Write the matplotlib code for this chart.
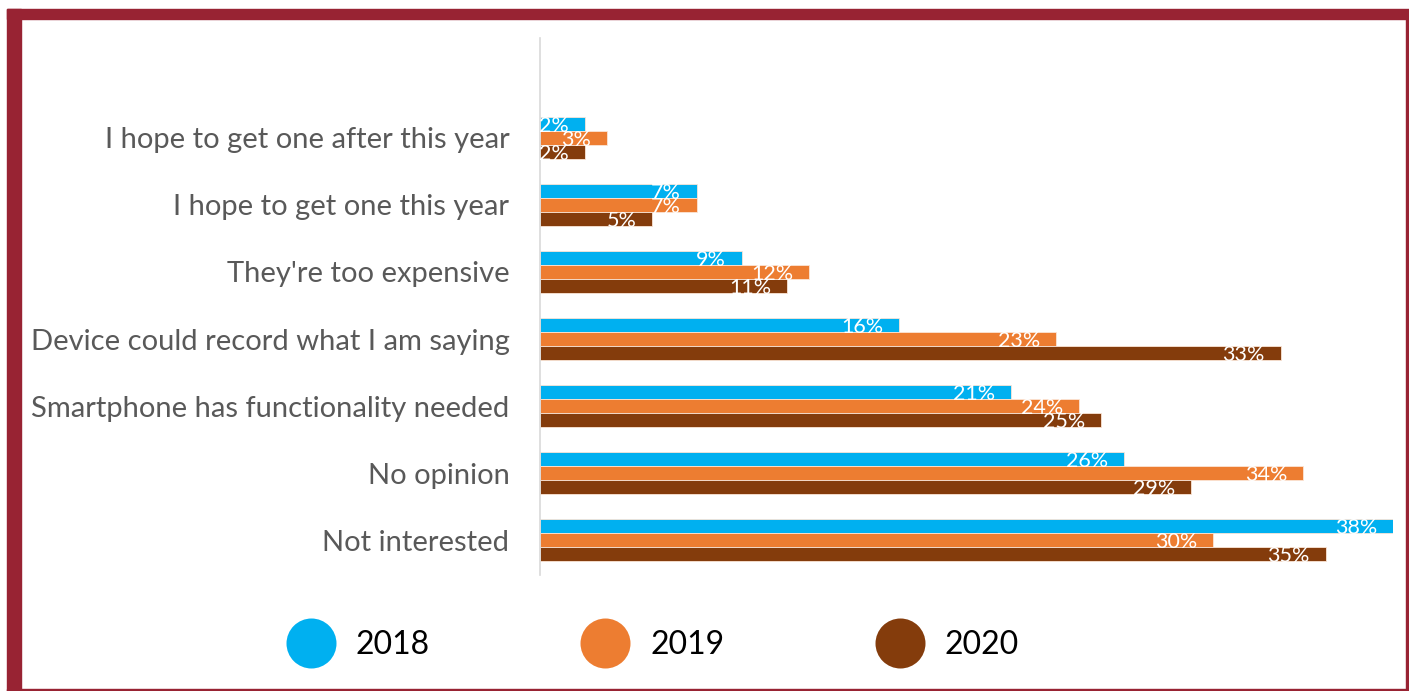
import numpy as np
import matplotlib.pyplot as plt
from matplotlib.lines import Line2D
from matplotlib.patches import Rectangle

plt.rcParams['font.family'] = ['Lato', 'DejaVu Sans']

# data, listed bottom to top as drawn
categories = ["Not interested", "No opinion", "Smartphone has functionality needed",
              "Device could record what I am saying", "They're too expensive",
              "I hope to get one this year", "I hope to get one after this year"]
years = ["2018", "2019", "2020"]
vals_2018 = [38, 26, 21, 16, 9, 7, 2]
vals_2019 = [30, 34, 24, 23, 12, 7, 3]
vals_2020 = [35, 29, 25, 33, 11, 5, 2]
colors = ["#00B0F0", "#ED7D31", "#843C0C"]

W, H = 1409, 691
fig = plt.figure(figsize=(W / 100, H / 100), dpi=100)
ax = fig.add_axes([540 / W, 1 - 575 / H, 853 / W, 537 / H])

y = np.arange(len(categories))
h = 0.209
series = [vals_2018, vals_2019, vals_2020]
offsets = [h, 0, -h]
for vals, off, c in zip(series, offsets, colors):
    ax.barh(y + off, vals, height=h, color=c, edgecolor='#FBE5D6', linewidth=0.6, zorder=2)

# value labels drawn on top of everything, white
for vals, off in zip(series, offsets):
    for yi, v in zip(y, vals):
        ax.annotate(f"{v}%", xy=(v, yi + off), xytext=(-11.5, -1.5), textcoords='offset points',
                    ha='right', va='center', color='white', fontsize=15.5, zorder=5)

ax.set_xlim(0, 38)
ax.set_ylim(-0.52, 7.49)
ax.set_yticks(y)
ax.set_yticklabels(categories, fontsize=21, color='#595959')
ax.tick_params(axis='y', length=0, pad=22)
ax.set_xticks([])
for s in ['top', 'right', 'bottom']:
    ax.spines[s].set_visible(False)
ax.spines['left'].set_color('#D9D9D9')
ax.spines['left'].set_linewidth(1.2)

handles = [Line2D([], [], marker='o', ls='', markersize=36, color=c, markeredgewidth=0) for c in colors]
fig.legend(handles, years, loc='center', bbox_to_anchor=(652 / W, 1 - 645 / H), ncol=3,
           frameon=False, fontsize=23, handlelength=1.6, handletextpad=0.6,
           columnspacing=4.7)

# dark red frame around the picture
red = '#982333'
fig.patches.append(Rectangle((7 / W, 1 - 19 / H), 1 - 7 / W, 10 / H, transform=fig.transFigure,
                             color=red, zorder=10))
fig.patches.append(Rectangle((7 / W, 0), 14 / W, 1 - 9 / H, transform=fig.transFigure,
                             color=red, zorder=10))
fig.patches.append(Rectangle((1406 / W, 0), 2 / W, 1 - 19 / H, transform=fig.transFigure,
                             color=red, zorder=10))
fig.patches.append(Rectangle((7 / W, 0), 1 - 7 / W, 2.5 / H, transform=fig.transFigure,
                             color=red, zorder=10))

fig.savefig("out.png", dpi=100)
